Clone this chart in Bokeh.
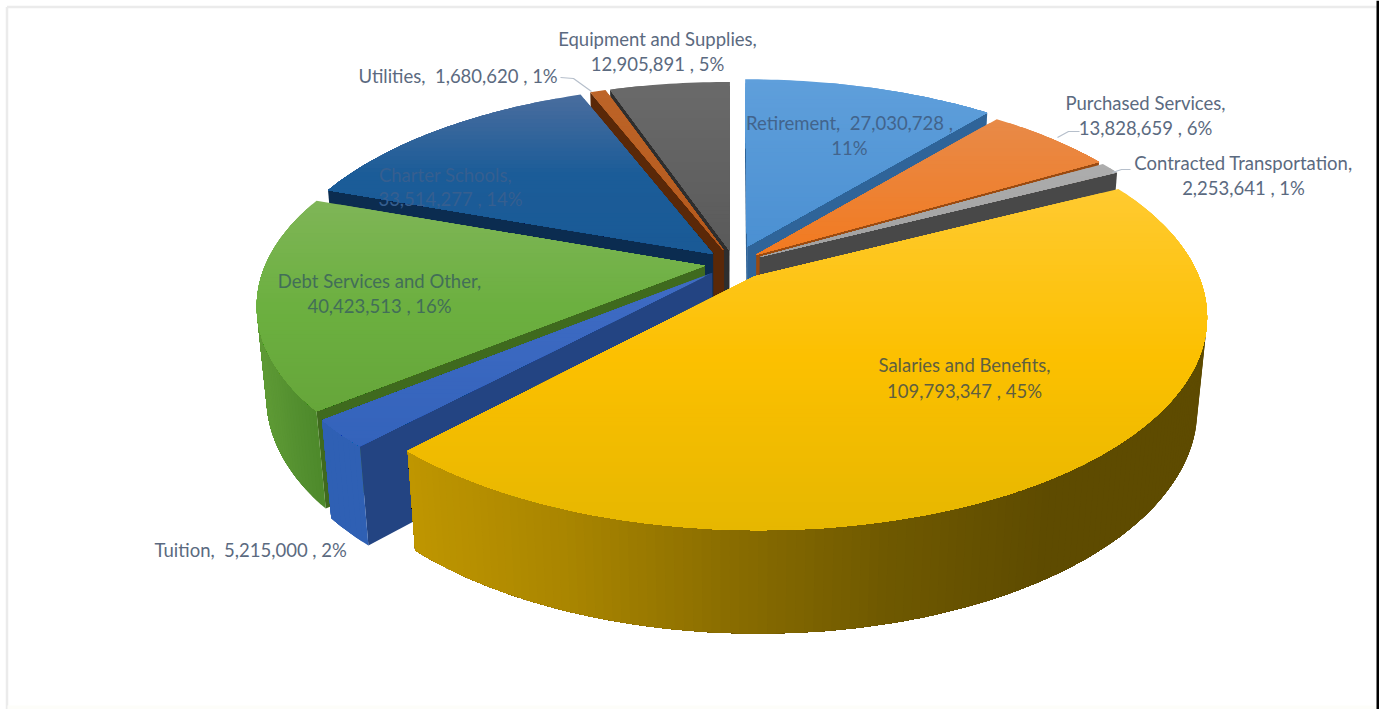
import math

from bokeh.core.properties import value
from bokeh.embed import file_html
from bokeh.models import ColumnDataSource, Range1d
from bokeh.plotting import figure
from bokeh.resources import INLINE

# Budget categories, clockwise from twelve o'clock
categories = [
    "Retirement", "Purchased Services", "Contracted Transportation",
    "Salaries and Benefits", "Tuition", "Debt Services and Other",
    "Charter Schools", "Utilities", "Equipment and Supplies",
]
amounts = [27030728, 13828659, 2253641, 109793347, 5215000,
           40423513, 33514277, 1680620, 12905891]
percents = [11, 6, 1, 45, 2, 16, 14, 1, 5]

# Back-to-front painting sequence for the extruded wedges
paint_order = [0, 1, 2, 8, 7, 6, 5, 4, 3]

# How far each wedge is pulled away from the centre
explosion = [0.09, 0.067, 0.067, 0.078, 0.067, 0.067, 0.067, 0.067, 0.067]

# Per-wedge shading: top face stops (by height), cut wall colour, rim stops (left to right)
top_shades = [
    ["#5f9fdb", "#4b90d2"],
    ["#e88a48", "#f27a20"],
    ["#adadad", "#a0a0a0"],
    ["#ffca30", "#fcc000", "#e6b700"],
    ["#3f6cc4", "#3463bb"],
    ["#7fb557", "#6cb040", "#66a63a"],
    ["#4a6d9e", "#1b5c98", "#1a5a96"],
    ["#bd6428", "#b4591c"],
    ["#6a6a6a", "#5a5a5a"],
]
wall_shades = ["#2f6499", "#9a4a10", "#484848", "#856800", "#234482",
               "#3f6a1e", "#0b2c50", "#5a2808", "#2e2e2e"]
rim_shades = [
    ["#2f6499"], ["#9a4a10"], ["#484848"],
    ["#bf9600", "#a98500", "#8a6d00", "#6f5900", "#5e4b00", "#5e4b00"],
    ["#2f60b4"],
    ["#5f9b36", "#4d892b"],
    ["#0b2c50"], ["#5a2808"], ["#2e2e2e"],
]

# Oblique camera used to flatten the disc
CX, CY = 733.5, 263.0
RADIUS = 439.0
SQUASH = 203.0
THICK = 91.0
PERSP = 0.18
SHRINK = 0.02


def project(x, y, z):
    s = 1.0 / (1.0 + PERSP * y + SHRINK * z)
    return CX + RADIUS * x * s, CY + (-SQUASH * y + THICK * z) * s


def hex_rgb(c):
    return tuple(int(c[i:i + 2], 16) for i in (1, 3, 5))


def blend(stops, t):
    if len(stops) == 1:
        return stops[0]
    t = min(max(t, 0.0), 1.0) * (len(stops) - 1)
    i = min(int(t), len(stops) - 2)
    a, b = hex_rgb(stops[i]), hex_rgb(stops[i + 1])
    f = t - i
    return "#%02x%02x%02x" % tuple(round(a[k] + (b[k] - a[k]) * f) for k in range(3))


def clip_below(poly, limit):
    """Keep the part of a convex polygon lying at or under a screen height."""
    out = []
    for i, a in enumerate(poly):
        b = poly[(i + 1) % len(poly)]
        a_in, b_in = a[1] >= limit, b[1] >= limit
        if a_in:
            out.append(a)
        if a_in != b_in:
            f = (limit - a[1]) / (b[1] - a[1])
            out.append((a[0] + (b[0] - a[0]) * f, limit))
    return out


def signed_area(poly):
    return sum(poly[i][0] * poly[(i + 1) % len(poly)][1] - poly[(i + 1) % len(poly)][0] * poly[i][1]
               for i in range(len(poly)))


total = sum(amounts)
spans = []
running = 0.0
for amount in amounts:
    start = running / total * 2 * math.pi
    running += amount
    spans.append((start, running / total * 2 * math.pi))

xs, ys, colors = [], [], []


def add(poly, color):
    xs.append([p[0] for p in poly])
    ys.append([p[1] for p in poly])
    colors.append(color)


for idx in paint_order:
    a0, a1 = spans[idx]
    mid = (a0 + a1) / 2
    ox, oy = explosion[idx] * math.sin(mid), explosion[idx] * math.cos(mid)
    steps = max(3, int(math.degrees(a1 - a0)))
    angles = [a0 + (a1 - a0) * k / steps for k in range(steps + 1)]
    rim = [(ox + math.sin(t), oy + math.cos(t)) for t in angles]
    apex = (ox, oy)

    # Cut walls that face the camera
    for p0, p1 in ((apex, rim[0]), (rim[-1], apex)):
        face = [project(*p0, 0), project(*p1, 0), project(*p1, 1), project(*p0, 1)]
        if signed_area(face) < 0:
            add(face, wall_shades[idx])

    # Curved rim: each strip repaints everything still ahead of it, leaving no seams
    rim_top = [project(r[0], r[1], 0) for r in rim]
    rim_bot = [project(r[0], r[1], 1) for r in rim]
    visible = [j for j in range(len(rim) - 1)
               if signed_area([rim_top[j], rim_top[j + 1], rim_bot[j + 1], rim_bot[j]]) < 0]
    if visible:
        lo = min(p[0] for p in rim_top)
        hi = max(p[0] for p in rim_top)
        last = visible[-1] + 1
        for j in visible:
            t = ((rim_top[j][0] + rim_top[j + 1][0]) / 2 - lo) / max(hi - lo, 1)
            add(rim_top[j:last + 1] + rim_bot[j:last + 1][::-1], blend(rim_shades[idx], t))

    # Top face: nested clips from the far edge forward give a smooth vertical shade
    top = [project(apex[0], apex[1], 0)] + rim_top
    y_min = min(p[1] for p in top)
    y_max = max(p[1] for p in top)
    n = max(1, int((y_max - y_min) / 4))
    for b in range(n):
        piece = clip_below(top, y_min + (y_max - y_min) * b / n)
        if len(piece) >= 3:
            add(piece, blend(top_shades[idx], (b + 0.5) / n))

p = figure(width=1379, height=709, output_backend="svg", toolbar_location=None,
           x_range=Range1d(0, 1379), y_range=Range1d(709, 0), min_border=0)
p.axis.visible = False
p.grid.visible = False
p.outline_line_color = None
p.background_fill_color = "#ffffff"
p.border_fill_color = "#ffffff"

# Chart-area border and the page edge
p.segment([6.5, 6.5], [6.5, 6.5], [1376, 6.5], [6.5, 709], line_color="#ebebeb", line_width=2.5)
p.quad(left=[7], right=[1376], top=[705], bottom=[709], fill_color="#fdfdf9", line_color=None)
p.quad(left=[1376], right=[1379], top=[0], bottom=[709], fill_color="#000000", line_color=None)

p.patches(xs, ys, fill_color=colors, line_color=None)

# Leader lines from outside labels to their wedges
p.multi_line([[560, 573, 591], [1057, 1068, 1079], [1112, 1121, 1130]],
             [[77, 78, 91], [137, 131, 131], [172, 169, 169]],
             line_color="#b6bfcb", line_width=1.2)


def amount_text(i):
    return f"{amounts[i]:,} , {percents[i]}%"


FONT = value("Lato")
OUTER = "#5b6a80"
GAP = " \u00a0"
label_rows = [
    (f"{categories[8]},", 657, 38, "center", OUTER),
    (amount_text(8), 657, 63, "center", OUTER),
    (f"{categories[7]},{GAP}{amount_text(7)}", 358, 75, "left", OUTER),
    (f"{categories[0]},{GAP}{amounts[0]:,} ,", 849, 122, "center", "#42648c"),
    (f"{percents[0]}%", 849, 147, "center", "#42648c"),
    (f"{categories[1]},", 1145, 102, "center", OUTER),
    (amount_text(1), 1145, 127, "center", OUTER),
    (f"{categories[2]},", 1243, 162, "center", OUTER),
    (amount_text(2), 1243, 187, "center", OUTER),
    (f"{categories[3]},", 964, 364, "center", "#5f5f3f"),
    (amount_text(3), 964, 390, "center", "#5f5f3f"),
    (f"{categories[5]},", 379, 280, "center", "#426e58"),
    (amount_text(5), 379, 305, "center", "#426e58"),
    (f"{categories[6]},", 445, 174, "center", "#365f90"),
    (amount_text(6), 450, 198, "center", "#365f90"),
    (f"{categories[4]},{GAP}{amount_text(4)}", 154, 549, "left", OUTER),
]
for align in ("center", "left"):
    rows = [r for r in label_rows if r[3] == align]
    src = ColumnDataSource(dict(
        x=[r[1] for r in rows], y=[r[2] for r in rows],
        t=[r[0] for r in rows], c=[r[4] for r in rows]))
    p.text("x", "y", text="t", source=src, text_color="c", text_font=FONT,
           text_font_size="18.5px", text_align=align, text_baseline="middle")

open("out.html", "w").write(file_html(p, INLINE))
